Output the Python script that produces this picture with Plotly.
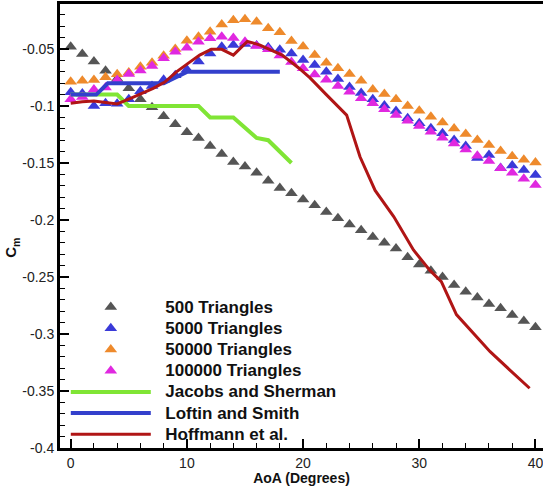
import plotly.graph_objects as go

aoa = list(range(41))

tri_500 = [-0.048, -0.0544, -0.061, -0.069, -0.076, -0.0845, -0.094, -0.101, -0.109, -0.116,
           -0.123, -0.128, -0.135, -0.142, -0.149, -0.153, -0.1585, -0.1655, -0.172, -0.1766,
           -0.182, -0.187, -0.193, -0.1985, -0.204, -0.209, -0.215, -0.220, -0.225, -0.2327,
           -0.239, -0.2445, -0.250, -0.257, -0.263, -0.268, -0.2737, -0.2775, -0.2833, -0.2886,
           -0.294]
tri_5000 = [-0.088, -0.089, -0.100, -0.0976, -0.098, -0.094, -0.087, -0.0825, -0.077, -0.073,
            -0.068, -0.061, -0.054, -0.048, -0.0465, -0.0456, -0.047, -0.0485, -0.0506, -0.054,
            -0.0596, -0.064, -0.070, -0.0763, -0.0833, -0.0886, -0.0941, -0.0996, -0.1044, -0.1108,
            -0.1152, -0.1196, -0.1239, -0.1298, -0.135, -0.1456, -0.143, -0.1544, -0.1522, -0.1561,
            -0.1605]
tri_50000 = [-0.0787, -0.0778, -0.0772, -0.0748, -0.0722, -0.0706, -0.0655, -0.062, -0.056, -0.050,
             -0.0427, -0.0392, -0.0348, -0.0285, -0.0248, -0.0239, -0.026, -0.0318, -0.0353, -0.043,
             -0.0478, -0.0553, -0.062, -0.0669, -0.0719, -0.0778, -0.0854, -0.0895, -0.0941, -0.100,
             -0.1041, -0.1094, -0.1145, -0.1197, -0.1246, -0.1298, -0.1342, -0.1395, -0.1441, -0.1471,
             -0.1496]
tri_100000 = [-0.094, -0.092, -0.0855, -0.0838, -0.0772, -0.0719, -0.0689, -0.0649, -0.0582, -0.0524,
              -0.0489, -0.0437, -0.0406, -0.0392, -0.0404, -0.0436, -0.0474, -0.0503, -0.0557, -0.0614,
              -0.0669, -0.0724, -0.0769, -0.0825, -0.0875, -0.0932, -0.0976, -0.1029, -0.1079, -0.1129,
              -0.1175, -0.1225, -0.1278, -0.1329, -0.1382, -0.1437, -0.1482, -0.1546, -0.1585, -0.1639,
              -0.1693]

jacobs_x = [0, 2, 4, 5, 11, 12, 14, 16, 17, 19]
jacobs_y = [-0.09, -0.09, -0.09, -0.10, -0.10, -0.11, -0.11, -0.128, -0.13, -0.15]

loftin_x = [0, 2.2, 3.2, 8, 10, 18]
loftin_y = [-0.09, -0.09, -0.08, -0.08, -0.07, -0.07]

hoff_x = [0, 1, 2, 3, 4, 5.2, 6.1, 7.1, 8.1, 9.1, 10.1, 11.1, 12.1, 13, 14, 15.2, 16.3, 17.3,
          18.2, 19.6, 20.6, 22, 23.75, 24.9, 26.2, 27.8, 29.5, 30.9, 31.9, 33.2, 34.6, 36.1, 37.8, 39.5]
hoff_y = [-0.0976, -0.0962, -0.0956, -0.0971, -0.0982, -0.093, -0.089, -0.0845, -0.079, -0.070,
          -0.0626, -0.0553, -0.0503, -0.0503, -0.0553, -0.0433, -0.0465, -0.051, -0.0553, -0.0664,
          -0.0753, -0.090, -0.108, -0.1445, -0.174, -0.197, -0.2263, -0.244, -0.254, -0.283,
          -0.299, -0.3155, -0.3316, -0.3476]

y_ticks = [-0.05, -0.1, -0.15, -0.2, -0.25, -0.3, -0.35, -0.4]
y_ticktext = ["-0.05", "-0.1", "-0.15", "-0.2", "-0.25", "-0.3", "-0.35", "-0.4"]
x_ticks = [0, 10, 20, 30, 40]

FONT = "Liberation Sans, Arial, sans-serif"


def legend_name(s):
    return "<span style='font-size:17px'>\u00a0\u00a0" + s + "</span>"


fig = go.Figure()

tri_series = [
    ("500 Triangles", tri_500, "#555555"),
    ("5000 Triangles", tri_5000, "#3a3ad8"),
    ("50000 Triangles", tri_50000, "#ee8a2c"),
    ("100000 Triangles", tri_100000, "#e028e0"),
]
for name, vals, col in tri_series:
    fig.add_trace(go.Scatter(x=aoa, y=vals, mode="markers", name=legend_name(name),
                             marker=dict(symbol="triangle-up", size=11, color=col,
                                         line=dict(width=0))))

line_series = [
    ("Jacobs and Sherman", jacobs_x, jacobs_y, "#80e535", 4),
    ("Loftin and Smith", loftin_x, loftin_y, "#3340cc", 4),
    ("Hoffmann et al.", hoff_x, hoff_y, "#b01515", 3),
]
for name, xv, yv, col, w in line_series:
    fig.add_trace(go.Scatter(x=xv, y=yv, mode="lines", name=legend_name(name),
                             line=dict(color=col, width=w)))

fig.update_layout(
    width=543, height=486,
    margin=dict(l=60, r=0, t=4, b=38),
    paper_bgcolor="white", plot_bgcolor="white",
    font=dict(family=FONT, color="#222222", size=14),
    showlegend=True,
    legend=dict(x=0.012, y=0.3525, xanchor="left", yanchor="top",
                bgcolor="rgba(0,0,0,0)", itemwidth=80,
                font=dict(family=FONT, size=14, color="#111111", weight="bold")),
    xaxis=dict(range=[-0.92, 40.65], tickvals=x_ticks, ticks="inside", ticklen=9, tickwidth=2,
               tickcolor="black", showline=True, linecolor="black", linewidth=3, mirror=True,
               showgrid=False, zeroline=False, ticklabeloverflow="allow",
               minor=dict(dtick=2, ticks="inside", ticklen=5, tickwidth=1, tickcolor="black"),
               title=dict(text="AoA (Degrees)", font=dict(size=14, weight="bold", color="#111111"),
                          standoff=6)),
    yaxis=dict(range=[-0.4, -0.0105], tickvals=y_ticks, ticktext=y_ticktext, ticks="inside",
               ticklen=9, tickwidth=2, tickcolor="black", showline=True, linecolor="black",
               linewidth=3, showgrid=False, zeroline=False,
               minor=dict(dtick=0.01, tick0=0, ticks="inside", ticklen=5, tickwidth=1, tickcolor="black")),
    annotations=[dict(text="C<sub>m</sub>", xref="paper", yref="paper", x=-0.124, y=0.45,
                      showarrow=False, textangle=-90,
                      font=dict(size=15, weight="bold", color="#111111"))],
)

fig.write_html("out.html")
